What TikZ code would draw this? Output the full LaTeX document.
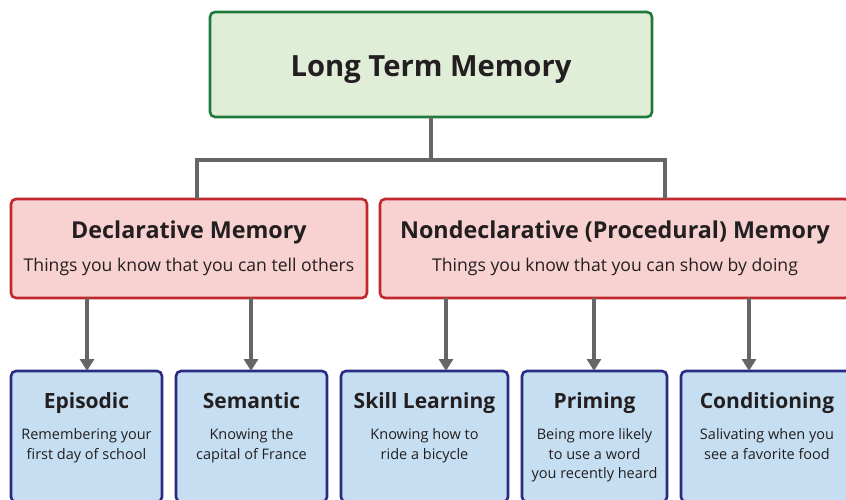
\documentclass[tikz,border=0pt]{standalone}
\usepackage{fontspec}
\setmainfont{Open Sans}
\usetikzlibrary{arrows.meta}
\definecolor{gfill}{HTML}{E0EDD7}
\definecolor{gline}{HTML}{1F7A3C}
\definecolor{rfill}{HTML}{F8D1D1}
\definecolor{rline}{HTML}{C1272D}
\definecolor{bfill}{HTML}{C6DEF1}
\definecolor{bline}{HTML}{2A2C84}
\definecolor{conncol}{HTML}{666666}
\definecolor{txt}{HTML}{231F20}
\begin{document}
\begin{tikzpicture}[x=1pt,y=-1pt,
  box/.style={line width=2.6pt, rounded corners=5pt, inner sep=0pt, outer sep=0pt},
  gbox/.style={box, draw=gline, fill=gfill},
  rbox/.style={box, draw=rline, fill=rfill},
  bbox/.style={box, draw=bline, fill=bfill},
  conn/.style={draw=conncol, line width=4.6pt},
  arr/.style={conn, -{Triangle[width=14pt,length=12pt]}},
  bigtitle/.style={anchor=base, text=txt, font=\fontsize{29.2}{34}\selectfont\bfseries, inner sep=0pt},
  midtitle/.style={anchor=base, text=txt, font=\fontsize{23.3}{28}\selectfont\bfseries, inner sep=0pt},
  midsub/.style={anchor=base, text=txt, font=\fontsize{17.6}{21}\selectfont, inner sep=0pt},
  lowtitle/.style={anchor=base, text=txt, font=\fontsize{21}{25}\selectfont\bfseries, inner sep=0pt},
  lowsub/.style={anchor=base, text=txt, font=\fontsize{14.5}{19.3}\selectfont, inner sep=0pt, align=center}
]
\useasboundingbox (0,0) rectangle (846,500);
\clip (0,0) rectangle (846,500);
\fill[white] (0,0) rectangle (846,500);

% boxes
\node[gbox, minimum width=442pt, minimum height=105pt] (ltm) at (431,64.5) {};
\node[rbox, minimum width=356pt, minimum height=99pt] (decl) at (189,248.5) {};
\node[rbox, minimum width=470pt, minimum height=99pt] (nond) at (615,248.5) {};
\node[bbox, minimum width=151pt, minimum height=131pt] (epi) at (86.5,436.5) {};
\node[bbox, minimum width=151pt, minimum height=131pt] (sem) at (251.5,436.5) {};
\node[bbox, minimum width=167pt, minimum height=131pt] (skill) at (424.5,436.5) {};
\node[bbox, minimum width=145pt, minimum height=131pt] (prim) at (594.5,436.5) {};
\node[bbox, minimum width=172pt, minimum height=131pt] (cond) at (767,436.5) {};

% texts
\node[bigtitle] (ltmt) at (431,77) {Long Term Memory};
\node[midtitle] (declt) at (189,238) {Declarative Memory};
\node[midsub] (decls) at (189,271) {Things you know that you can tell others};
\node[midtitle] (nondt) at (615,238) {Nondeclarative (Procedural) Memory};
\node[midsub] (nonds) at (615,271) {Things you know that you can show by doing};
\node[lowtitle] (epit) at (86.5,408) {Episodic};
\node[lowsub] (epis) at (86.5,459) {Remembering your\\first day of school};
\node[lowtitle] (semt) at (251.5,408) {Semantic};
\node[lowsub] (sems) at (251.5,459) {Knowing the\\capital of France};
\node[lowtitle] (skillt) at (424.5,408) {Skill Learning};
\node[lowsub] (skills) at (424.5,459) {Knowing how to\\ride a bicycle};
\node[lowtitle] (primt) at (594.5,408) {Priming};
\node[lowsub] (prims) at (594.5,478.3) {Being more likely\\to use a word\\you recently heard};
\node[lowtitle] (condt) at (767,408) {Conditioning};
\node[lowsub] (conds) at (767,459) {Salivating when you\\see a favorite food};

% connector helpers
\coordinate (dx) at (197,0);
\coordinate (nx) at (665,0);
\coordinate (jy) at (0,160);
\coordinate (a1) at (87,0);
\coordinate (a2) at (251,0);
\coordinate (a3) at (446,0);
\coordinate (a4) at (594,0);
\coordinate (a5) at (749,0);

\draw[conn] (ltm.south) |- (jy -| dx) -- (decl.north -| dx);
\draw[conn] (ltm.south) |- (jy -| nx) -- (nond.north -| nx);

\draw[arr] (decl.south -| a1) -- (epi.north -| a1);
\draw[arr] (decl.south -| a2) -- (sem.north -| a2);
\draw[arr] (nond.south -| a3) -- (skill.north -| a3);
\draw[arr] (nond.south -| a4) -- (prim.north -| a4);
\draw[arr] (nond.south -| a5) -- (cond.north -| a5);
\end{tikzpicture}
\end{document}
